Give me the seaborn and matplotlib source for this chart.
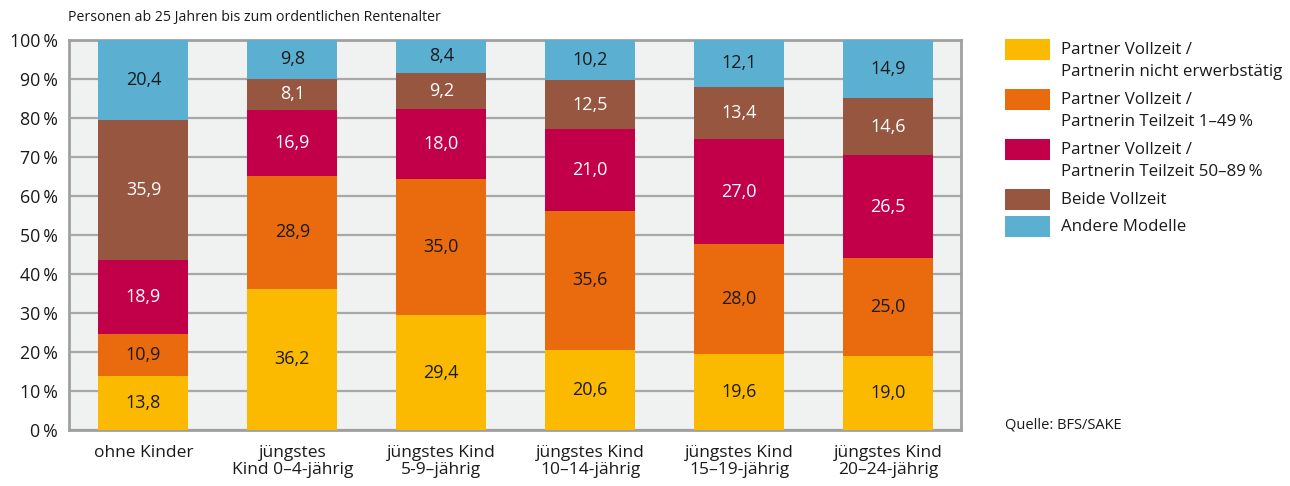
import matplotlib
matplotlib.use("Agg")
import matplotlib.pyplot as plt
from matplotlib.patches import Rectangle
import numpy as np
import pandas as pd
import seaborn as sns

# Categories (youngest child's age group)
categories = [
    "ohne Kinder",
    "jüngstes\nKind 0–4-jährig",
    "jüngstes Kind\n5-9–jährig",
    "jüngstes Kind\n10–14-jährig",
    "jüngstes Kind\n15–19-jährig",
    "jüngstes Kind\n20–24-jährig",
]

# Shares of employment models in %, bottom to top
nicht_erwerbstaetig = [13.8, 36.2, 29.4, 20.6, 19.6, 19.0]
teilzeit_1_49 = [10.9, 28.9, 35.0, 35.6, 28.0, 25.0]
teilzeit_50_89 = [18.9, 16.9, 18.0, 21.0, 27.0, 26.5]
beide_vollzeit = [35.9, 8.1, 9.2, 12.5, 13.4, 14.6]
andere_modelle = [20.4, 9.8, 8.4, 10.2, 12.1, 14.9]

series_labels = [
    "Partner Vollzeit /\nPartnerin nicht erwerbstätig",
    "Partner Vollzeit /\nPartnerin Teilzeit 1–49\u2009%",
    "Partner Vollzeit /\nPartnerin Teilzeit 50–89\u2009%",
    "Beide Vollzeit",
    "Andere Modelle",
]
series_values = [nicht_erwerbstaetig, teilzeit_1_49, teilzeit_50_89,
                 beide_vollzeit, andere_modelle]
colors = ["#FBBA00", "#EA6A0E", "#C2004A", "#975640", "#5BAFD0"]
text_colors = ["#1a1a1a", "#1a1a1a", "white", "white", "#1a1a1a"]

yticks = [0, 10, 20, 30, 40, 50, 60, 70, 80, 90, 100]

sns.set_theme(style="white")
plt.rcParams["font.family"] = ["Open Sans", "DejaVu Sans"]

fig = plt.figure(figsize=(12.9, 4.86), dpi=100)
ax = fig.add_axes([69 / 1290, 1 - 430 / 486, (961 - 69) / 1290, (430 - 40) / 486])
ax.set_facecolor("#F0F1F1")

vals = np.array(series_values)
tops = np.cumsum(vals, axis=0)
bottoms = tops - vals

# Stacked bars: draw cumulative totals from the top layer down
for i in range(len(series_values) - 1, -1, -1):
    df = pd.DataFrame({"cat": categories, "val": tops[i]})
    sns.barplot(data=df, x="cat", y="val", order=categories, color=colors[i],
                width=0.604, saturation=1, linewidth=0, ax=ax, zorder=3)

# Segment value labels
for i in range(len(series_values)):
    for j in range(len(categories)):
        mid = bottoms[i, j] + vals[i, j] / 2
        ax.text(j, mid, f"{vals[i, j]:.1f}".replace(".", ","),
                ha="center", va="center", fontsize=13, color=text_colors[i],
                zorder=4)

ax.set_xlim(-0.5, 5.49)
ax.set_ylim(0, 100)
ax.set_yticks(yticks)
ax.set_yticklabels([f"{t}\u2009%" for t in yticks], fontsize=12.8, color="#1a1a1a")
ax.tick_params(axis="x", labelsize=12.5, colors="#1a1a1a", length=0, pad=11)
ax.tick_params(axis="y", length=4, width=1.6, color="#A8A8A8", pad=4)
for lab in ax.get_xticklabels():
    lab.set_linespacing(1.1)
ax.set_xlabel("")
ax.set_ylabel("")

ax.yaxis.grid(True, color="#A8A8A8", linewidth=1.6, zorder=1)
ax.set_axisbelow(True)
for side in ["left", "right", "bottom", "top"]:
    ax.spines[side].set_visible(True)
    ax.spines[side].set_color("#A0A0A0")
    ax.spines[side].set_linewidth(2)

fig.text(68 / 1290, 1 - 18 / 486, "Personen ab 25 Jahren bis zum ordentlichen Rentenalter",
         fontsize=10.2, color="#1a1a1a", va="center", ha="left")

# Legend drawn as figure patches with multi-line labels
legend_tops = [39, 89, 139, 189, 216]
for lab, col, top in zip(series_labels, colors, legend_tops):
    fig.patches.append(Rectangle((1005 / 1290, 1 - (top + 21) / 486), 45 / 1290, 21 / 486,
                                 transform=fig.transFigure, facecolor=col,
                                 edgecolor="none"))
    lines = lab.split("\n")
    for k, line in enumerate(lines):
        fig.text(1061 / 1290, 1 - (top + 10.5 + 22 * k) / 486, line,
                 fontsize=12.2, color="#1a1a1a", va="center", ha="left")

fig.text(1005 / 1290, 1 - 425 / 486, "Quelle: BFS/SAKE", fontsize=10.5,
         color="#1a1a1a", va="center", ha="left")

fig.savefig("out.png", dpi=100, facecolor="white")
